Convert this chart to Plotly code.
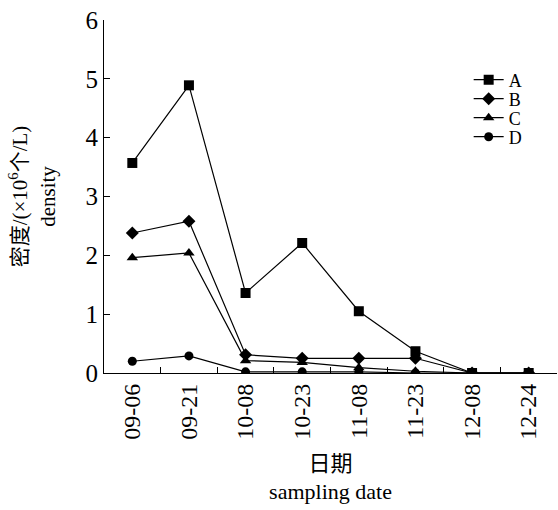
import plotly.graph_objects as go

dates = ["09-06", "09-21", "10-08", "10-23", "11-08", "11-23", "12-08", "12-24"]
A = [3.57, 4.89, 1.36, 2.21, 1.05, 0.37, 0.0, 0.0]
B = [2.38, 2.58, 0.31, 0.25, 0.25, 0.25, 0.0, 0.0]
C = [1.96, 2.04, 0.21, 0.18, 0.09, 0.03, 0.0, 0.0]
D = [0.20, 0.29, 0.02, 0.02, 0.02, 0.0, 0.0, 0.0]
names = ["A", "B", "C", "D"]
symbols = ["square", "diamond", "triangle-up", "circle"]
sizes = [10, 10, 10, 9]

serif = "'Liberation Serif', 'Times New Roman', serif"
cjk = "'Liberation Serif', 'Noto Sans CJK SC', serif"

legend_ids = ["legend", "legend2", "legend3", "legend4"]
legend_px = [80, 99, 118, 137]  # vertical centre of each legend row (pixels from top)
plot_top, plot_h = 20, 353

fig = go.Figure()
for name, vals, sym, sz, lid in zip(names, [A, B, C, D], symbols, sizes, legend_ids):
    fig.add_trace(go.Scatter(
        x=dates, y=vals, name=name, mode="lines+markers",
        line=dict(color="black", width=1.2),
        marker=dict(symbol=sym, size=sz, color="black"),
        legend=lid,
    ))

legend_layout = {}
for lid, py in zip(legend_ids, legend_px):
    legend_layout[lid] = dict(
        x=0.805, y=(plot_top + plot_h - py) / plot_h, xanchor="left", yanchor="middle",
        font=dict(family=serif, size=18), bgcolor="rgba(0,0,0,0)",
        itemwidth=30,
    )

fig.update_layout(
    width=558, height=510,
    margin=dict(l=104, r=1, t=plot_top, b=137),
    plot_bgcolor="white", paper_bgcolor="white",
    font=dict(family=serif, size=24, color="black"),
    showlegend=True,
    xaxis=dict(
        type="category", range=[-0.5, 7.5], tickson="boundaries",
        ticks="inside", ticklen=6, tickcolor="black",
        showline=True, linecolor="black", linewidth=1.2,
        showgrid=False, zeroline=False, tickangle=-90,
        tickfont=dict(family=serif, size=24, color="black"),
        title=dict(text="日期<br>sampling date", font=dict(family=cjk, size=22), standoff=16),
    ),
    yaxis=dict(
        range=[0, 6], dtick=1, ticks="inside", ticklen=6, tickcolor="black",
        showline=True, linecolor="black", linewidth=1.2,
        showgrid=False, zeroline=False,
        tickfont=dict(family=serif, size=25, color="black"),
        title=dict(text="密度/(×10<sup>6</sup>个/L)<br>density", font=dict(family=cjk, size=21), standoff=24),
    ),
    **legend_layout,
)

fig.write_html("out.html")
